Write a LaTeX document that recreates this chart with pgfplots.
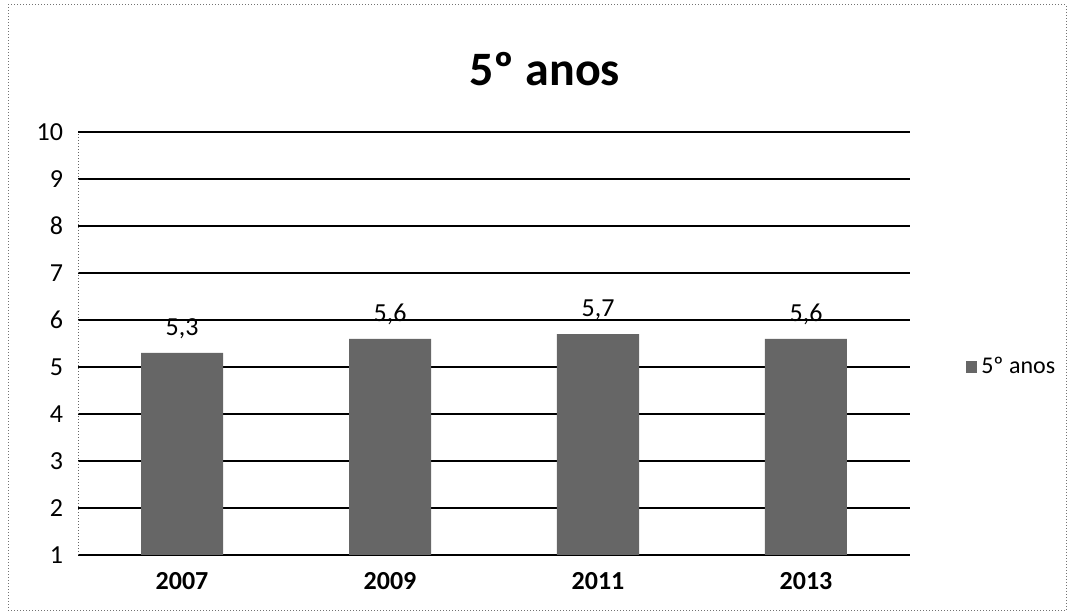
\documentclass[border=0pt]{standalone}
\usepackage{pgfplots}
\pgfplotsset{compat=1.18}
\usepackage{fontspec}
\setmainfont{Carlito}
\begin{document}
\begin{tikzpicture}
\useasboundingbox (0,0) rectangle (536.5pt,307.5pt);
\draw[black!55, densely dotted, line width=0.5pt] (4pt,2pt) rectangle (533pt,305pt);
\begin{axis}[
  at={(39pt,30pt)}, anchor=south west,
  scale only axis, width=416pt, height=211.5pt,
  xmin=-0.5, xmax=3.5, ymin=1, ymax=10,
  ytick={1,2,...,10},
  xtick={0,1,2,3}, xticklabels={2007,2009,2011,2013},
  /pgf/number format/assume math mode=true,
  major tick length=0pt,
  axis x line*=bottom, axis y line*=left,
  x axis line style={black, line width=0.9pt},
  y axis line style={black!60, densely dotted, line width=0.5pt},
  ymajorgrids, grid style={black, line width=0.8pt},
  yticklabel style={font=\fontsize{13}{15}\selectfont, xshift=-4pt},
  xticklabel style={font=\fontsize{13}{15}\selectfont\bfseries, yshift=-5pt},
  title={5º anos},
  title style={font=\fontsize{24}{28}\selectfont\bfseries, at={(rel axis cs:0.561,1.12)}, anchor=center},
  legend style={draw=none, at={(1.06,0.444)}, anchor=west, font=\fontsize{12}{14}\selectfont, fill=none},
  legend image code/.code={\fill[black!60] (0pt,-3pt) rectangle (5.5pt,3pt);},
  nodes near coords,
  nodes near coords style={font=\fontsize{13}{15}\selectfont, yshift=3.5pt, /pgf/number format/.cd, use comma, fixed, fixed zerofill, precision=1, assume math mode=true},
]
\addplot[ybar, bar width=41pt, fill=black!60, draw=none] coordinates {(0,5.3) (1,5.6) (2,5.7) (3,5.6)};
\addlegendentry{5º anos}
\end{axis}
\end{tikzpicture}
\end{document}
